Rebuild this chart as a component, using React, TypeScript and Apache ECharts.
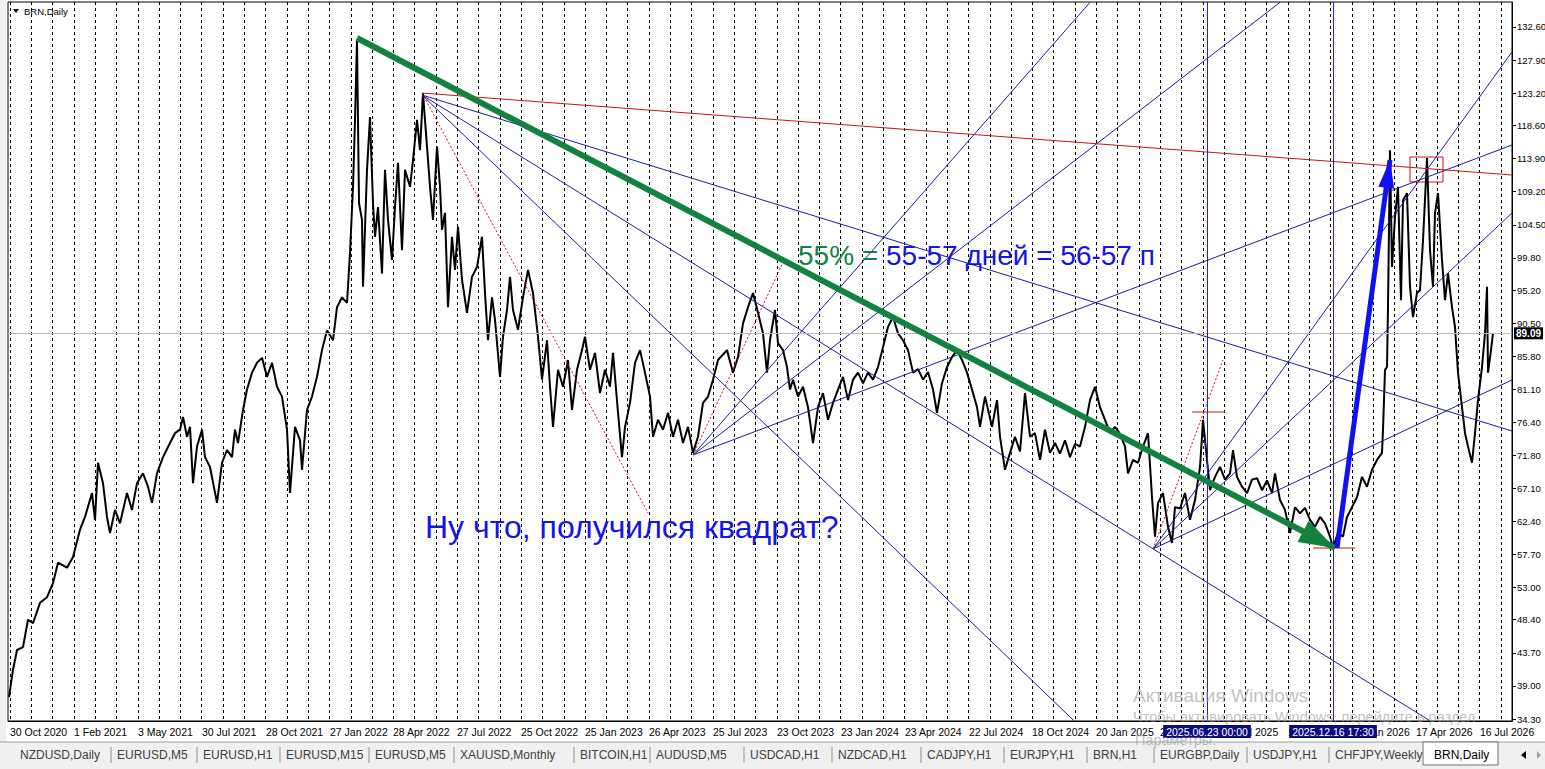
import React, { useEffect, useRef } from "react";
import * as echarts from "echarts";

// BRN daily: bar index (about one bar per pixel) and price
const priceBars = [
  -1, 3, 7, 13, 18, 23, 30, 37, 43, 48, 57, 63, 70, 75, 82, 85, 88, 93, 97, 100,
  105, 110, 117, 122, 127, 133, 138, 142, 147, 153, 160, 165, 170, 173, 177, 180, 183, 187, 192, 195,
  200, 207, 212, 217, 222, 225, 228, 233, 237, 242, 247, 252, 257, 262, 267, 272, 277, 280, 285, 290,
  292, 297, 302, 307, 312, 317, 323, 327, 332, 337, 340, 343, 345, 347, 349, 352, 353, 357, 360, 363,
  365, 368, 372, 375, 378, 382, 385, 388, 392, 395, 400, 403, 407, 410, 413, 417, 420, 423, 427, 430,
  432, 435, 438, 442, 445, 448, 452, 457, 462, 467, 472, 475, 478, 482, 485, 490, 493, 497, 500, 503,
  508, 513, 518, 523, 528, 532, 537, 540, 543, 548, 553, 558, 562, 567, 572, 575, 580, 585, 590, 595,
  600, 603, 608, 612, 615, 620, 625, 630, 635, 640, 643, 648, 653, 658, 663, 668, 673, 678, 683, 688,
  693, 698, 703, 708, 717, 723, 728, 733, 738, 743, 748, 753, 757, 760, 765, 768, 773, 777, 780, 783,
  788, 793, 798, 803, 808, 813, 818, 823, 828, 833, 838, 843, 848, 853, 858, 863, 868, 873, 878, 883,
  888, 893, 898, 903, 908, 913, 918, 923, 927, 932, 937, 942, 947, 952, 957, 962, 967, 970, 975, 982,
  987, 990, 995, 1000, 1005, 1010, 1015, 1020, 1025, 1030, 1035, 1040, 1045, 1050, 1055, 1060, 1065, 1070, 1075, 1080,
  1085, 1090, 1095, 1100, 1105, 1110, 1115, 1118, 1123, 1128, 1133, 1138, 1142, 1145, 1148, 1153, 1158, 1162, 1165, 1170,
  1175, 1180, 1185, 1190, 1192, 1193, 1197, 1200, 1205, 1210, 1215, 1220, 1223, 1227, 1232, 1237, 1242, 1247, 1252, 1257,
  1262, 1265, 1270, 1275, 1280, 1285, 1290, 1295, 1300, 1305, 1310, 1315, 1320, 1323, 1328, 1333, 1337, 1342, 1347, 1352,
  1357, 1362, 1367, 1372, 1373, 1375, 1377, 1378, 1380, 1382, 1385, 1388, 1391, 1393, 1397, 1400, 1403, 1407, 1410, 1413,
  1417, 1420, 1423, 1425, 1428, 1432, 1435, 1438, 1442, 1445, 1448, 1452, 1455, 1458, 1462, 1465, 1468, 1472, 1475, 1477,
  1478, 1481, 1483,
];
const prices = [
  37.4, 41.3, 44.1, 44.5, 48.4, 47.9, 50.8, 51.6, 53.6, 56.5, 55.8, 57.3, 61.2, 63.0, 66.4, 62.6, 70.7, 67.8, 63.0, 60.7,
  64.0, 62.1, 66.4, 64.0, 67.8, 69.2, 67.3, 65.0, 69.2, 71.5, 73.5, 74.9, 75.4, 77.2, 74.4, 75.8, 67.8, 73.0, 75.4, 71.5,
  70.1, 65.0, 70.7, 72.5, 71.5, 75.4, 73.5, 78.2, 81.1, 83.5, 84.9, 85.6, 82.9, 84.9, 81.5, 80.1, 75.4, 66.4, 75.8, 73.9,
  69.7, 78.2, 80.1, 82.9, 86.7, 89.5, 88.1, 92.8, 94.2, 93.4, 100.5, 109.9, 119.4, 130.8, 107.6, 105.2, 95.7, 112.3, 119.8, 107.6,
  102.8, 107.0, 97.6, 112.3, 105.2, 99.5, 107.0, 113.3, 100.9, 112.3, 109.9, 113.7, 119.4, 115.1, 123.2, 115.6, 109.9, 105.2, 115.6, 109.9,
  103.8, 106.2, 92.8, 102.8, 98.1, 104.2, 96.7, 92.0, 97.1, 98.5, 102.8, 94.8, 88.1, 94.2, 91.0, 82.9, 88.6, 92.4, 97.1, 92.4,
  89.6, 94.2, 98.1, 94.8, 88.6, 82.5, 88.1, 81.5, 75.8, 83.9, 81.5, 85.3, 78.2, 83.9, 86.7, 88.6, 83.9, 86.3, 80.6, 83.9,
  81.5, 86.3, 77.8, 71.5, 75.8, 79.2, 84.9, 86.7, 83.5, 80.1, 74.4, 76.8, 75.4, 77.8, 74.4, 76.8, 73.5, 75.8, 72.1, 74.4,
  79.2, 80.1, 82.5, 85.3, 86.7, 83.5, 85.7, 90.5, 92.8, 94.8, 92.0, 89.1, 83.5, 88.1, 92.4, 87.7, 86.7, 84.3, 81.1, 82.5,
  80.1, 81.5, 78.6, 73.5, 78.6, 80.6, 76.8, 79.2, 81.1, 82.9, 79.6, 82.5, 83.5, 82.0, 83.5, 82.5, 84.3, 87.1, 90.0, 91.4,
  89.1, 88.1, 86.7, 83.5, 84.0, 82.5, 83.6, 81.1, 77.8, 82.0, 84.3, 85.7, 86.7, 85.3, 83.5, 81.1, 78.6, 75.8, 80.1, 75.8,
  79.6, 74.4, 69.7, 72.1, 74.4, 72.3, 80.6, 74.4, 74.9, 71.1, 75.4, 72.1, 73.5, 72.0, 73.9, 71.5, 73.4, 73.0, 75.8, 79.6,
  81.5, 78.6, 76.8, 74.9, 75.8, 74.8, 73.0, 69.2, 71.1, 70.7, 73.0, 74.9, 65.8, 60.2, 65.0, 66.4, 61.6, 59.3, 64.4, 64.2,
  66.4, 62.6, 65.4, 70.1, 74.4, 76.8, 71.1, 66.8, 68.7, 70.1, 68.3, 69.2, 72.5, 68.7, 67.3, 66.4, 68.3, 68.5, 66.8, 68.2,
  66.4, 69.2, 65.4, 64.0, 60.7, 64.4, 63.5, 64.3, 62.6, 61.6, 63.0, 62.1, 60.2, 58.7, 60.7, 60.2, 63.0, 64.4, 65.8, 68.7,
  67.3, 69.7, 71.1, 72.1, 75.4, 83.9, 84.3, 92.8, 115.1, 98.5, 105.6, 109.9, 93.8, 108.0, 109.0, 95.7, 91.4, 94.8, 95.2, 102.3,
  114.0, 100.9, 95.7, 106.2, 109.0, 99.5, 93.8, 97.6, 92.8, 90.0, 83.5, 78.6, 74.9, 73.0, 70.7, 74.9, 79.6, 84.3, 89.1, 95.7,
  83.5, 86.7, 89.1,
];
const lastPrice = 89.09;

const xTickBars = [
  0, 64, 128, 192, 256, 320, 383, 447, 511, 575, 639, 703,
  767, 831, 895, 959, 1022, 1086, 1150, 1214, 1278, 1342, 1406, 1470,
];
const xTickLabels = [
  "30 Oct 2020", "1 Feb 2021", "3 May 2021", "30 Jul 2021", "28 Oct 2021", "27 Jan 2022",
  "28 Apr 2022", "27 Jul 2022", "25 Oct 2022", "25 Jan 2023", "26 Apr 2023", "25 Jul 2023",
  "23 Oct 2023", "23 Jan 2024", "23 Apr 2024", "22 Jul 2024", "18 Oct 2024", "20 Jan 2025",
  "21 Apr 2025", "18 Jul 2025", "15 Oct 2025", "15 Jan 2026", "17 Apr 2026", "16 Jul 2026",
];
const yTicks = [
  34.3, 39.0, 43.7, 48.4, 53.0, 57.7, 62.4, 67.1, 71.8, 76.4, 81.1,
  85.8, 90.5, 95.2, 99.8, 104.5, 109.2, 113.9, 118.6, 123.2, 127.9, 132.6,
];

// chart objects: [barFrom, priceFrom, barTo, priceTo]
const blueTrendLines = [
  [412, 122.94, 1502, 75.21],
  [412, 122.94, 1420, 34.05],
  [412, 122.94, 1064, 34.05],
  [683, 71.8, 1080, 136.1],
  [683, 71.8, 1270, 136.1],
  [683, 71.8, 1502, 115.84],
  [1143, 58.45, 1502, 129.05],
  [1143, 58.45, 1502, 106.18],
  [1143, 58.45, 1502, 82.46],
];
const redRay = [412, 123.22, 1502, 111.58];
const redDotted = [
  [412, 123.22, 638, 63.56],
  [683, 71.8, 775, 99.79],
  [1143, 58.45, 1213, 85.3],
];
const redLevels = [
  [1182, 77.91, 1215, 77.91],
  [1303, 58.59, 1345, 58.59],
];
const redBox = [1400, 114.13, 1433, 110.58];
const greenArrow = [347, 131.04, 1325, 58.59];
const blueArrow = [1327, 58.59, 1380, 113.71];
const vLineBars = [1197, 1323];
const vLineLabels = ["2025.06.23 00:00", "2025.12.16 17:30"];

const tabNames = [
  "NZDUSD,Daily", "EURUSD,M5", "EURUSD,H1", "EURUSD,M15", "EURUSD,M5", "XAUUSD,Monthly",
  "BITCOIN,H1", "AUDUSD,M5", "USDCAD,H1", "NZDCAD,H1", "CADJPY,H1", "EURJPY,H1",
  "BRN,H1", "EURGBP,Daily", "USDJPY,H1", "CHFJPY,Weekly",
];
const tabX = [20, 117, 203, 286, 375, 460, 580, 656, 750, 838, 927, 1010, 1093, 1160, 1253, 1335];

const FONT = '"Liberation Sans", Arial, sans-serif';
const NAVY = "#1c1c9c";
const RED = "#c81414";
const GREEN = "#14823f";
const BLUE = "#1414e6";

const seg = (a: number[]) => [[a[0], a[1]], [a[2], a[3]]];

const gridBars: number[] = [];
for (let j = 0; j * 21.3 <= 1500; j++) gridBars.push(+(j * 21.3).toFixed(1));

const BrnChart: React.FC = () => {
  const chartRef = useRef<HTMLDivElement | null>(null);
  useEffect(() => {
    if (!chartRef.current) return;
    const chart = echarts.init(chartRef.current, null, { renderer: "svg" });

    const lineSeries = (pts: number[][], color: string, type: any, width = 1) => ({
      type: "line",
      data: pts,
      symbol: "none",
      silent: true,
      z: 3,
      lineStyle: { color, width, type },
    });

    const arrowMark = (a: number[], color: string, width: number, size: number[]) => ({
      type: "line",
      data: [],
      silent: true,
      z: 4,
      markLine: {
        silent: true,
        animation: false,
        label: { show: false },
        lineStyle: { color, width, type: "solid", opacity: 1 },
        emphasis: { disabled: true },
        data: [
          [
            { coord: [a[0], a[1]], symbol: "none" },
            { coord: [a[2], a[3]], symbol: "triangle", symbolSize: size, symbolOffset: [0, size[1] / 2] },
          ],
        ],
      },
    });

    const textEl = (text: string, x: number, y: number, font: string, fill: string) => ({
      type: "text",
      x,
      y,
      z: 100,
      silent: true,
      style: { text, font, fill, align: "left", verticalAlign: "middle", textAlign: "left", textVerticalAlign: "middle" },
    });

    const graphic: any[] = [
      { type: "rect", z: 90, silent: true, shape: { x: 0, y: 742, width: 1545, height: 27 }, style: { fill: "#f0f0f0" } },
      { type: "line", z: 91, silent: true, shape: { x1: 0, y1: 742, x2: 1545, y2: 742 }, style: { stroke: "#a0a0a0", lineWidth: 1 } },
      { type: "rect", z: 92, silent: true, shape: { x: 1423, y: 742, width: 75, height: 23 }, style: { fill: "#fff", stroke: "#707070", lineWidth: 1 } },
      { type: "rect", z: 90, silent: true, shape: { x: 0, y: 0, width: 6, height: 742 }, style: { fill: "#f0f0f0" } },
      { type: "polygon", z: 100, silent: true, shape: { points: [[1521, 755], [1526, 751], [1526, 759]] }, style: { fill: "#000" } },
      { type: "polygon", z: 100, silent: true, shape: { points: [[1541, 755], [1537, 751], [1537, 759]] }, style: { fill: "#a0a0a0" } },
      { type: "polygon", z: 100, silent: true, shape: { points: [[13, 9], [19, 9], [16, 13]] }, style: { fill: "#000" } },
      textEl("BRN,Daily", 24, 11, `9.5px ${FONT}`, "#000"),
      textEl("55% =", 798, 255, `28px ${FONT}`, GREEN),
      textEl("55-57 дней = 56-57 п", 886, 255, `28px ${FONT}`, BLUE),
      textEl("Ну что, получился квадрат?", 425, 527, `32px ${FONT}`, BLUE),
      textEl("Активация Windows", 1133, 695, `19px ${FONT}`, "rgba(150,150,150,0.6)"),
      textEl("Чтобы активировать Windows, перейдите в раздел", 1133, 717, `14.5px ${FONT}`, "rgba(150,150,150,0.6)"),
      textEl("Параметры.", 1135, 740, `14.5px ${FONT}`, "rgba(150,150,150,0.6)"),
      textEl("BRN,Daily", 1434, 755, `12px ${FONT}`, "#000"),
    ];
    tabNames.forEach((t, i) => graphic.push(textEl(t, tabX[i], 755, `12px ${FONT}`, "#404040")));
    tabX.slice(1).forEach((x) =>
      graphic.push({ type: "line", z: 100, silent: true, shape: { x1: x - 6, y1: 747, x2: x - 6, y2: 763 }, style: { stroke: "#909090", lineWidth: 1 } })
    );

    const option = {
      animation: false,
      backgroundColor: "#fff",
      grid: {
        left: 8, right: 33, top: 2, bottom: 48,
        show: true, borderColor: "#000", borderWidth: 1,
        containLabel: false, outerBoundsMode: "none",
      },
      xAxis: {
        type: "value",
        min: -2,
        max: 1502,
        axisLine: { show: true, onZero: false, lineStyle: { color: "#000", width: 1 } },
        axisTick: { show: false, customValues: gridBars },
        splitLine: { show: true, lineStyle: { color: "#000", width: 1, type: [3, 3] } },
        axisLabel: {
          customValues: xTickBars,
          formatter: (v: number) => xTickLabels[xTickBars.indexOf(v)] ?? "",
          align: "left",
          margin: 5,
          color: "#000",
          fontSize: 10.5,
          fontFamily: FONT,
          hideOverlap: false,
        },
      },
      yAxis: {
        type: "value",
        position: "right",
        min: 34.016,
        max: 136.151,
        axisLine: { show: true, onZero: false, lineStyle: { color: "#000", width: 1 } },
        axisTick: { show: true, customValues: yTicks, length: 4, lineStyle: { color: "#000" } },
        splitLine: { show: false },
        axisLabel: {
          customValues: yTicks,
          formatter: (v: number) => v.toFixed(2),
          margin: 5,
          color: "#000",
          fontSize: 9.5,
          fontFamily: FONT,
          hideOverlap: false,
        },
      },
      series: [
        {
          type: "line",
          data: priceBars.map((b, i) => [b, prices[i]]),
          symbol: "none",
          silent: true,
          z: 2,
          lineStyle: { color: "#000", width: 2 },
          markLine: {
            silent: true,
            animation: false,
            symbol: "none",
            lineStyle: { color: "#b8b8b8", width: 1, type: "solid" },
            label: {
              show: true,
              position: "end",
              distance: 2,
              formatter: lastPrice.toFixed(2),
              color: "#fff",
              backgroundColor: "#000",
              padding: [1, 2],
              fontSize: 10,
              fontWeight: "bold",
              fontFamily: FONT,
            },
            data: [{ yAxis: lastPrice }],
          },
        },
        ...blueTrendLines.map((l) => lineSeries(seg(l), NAVY, "solid")),
        lineSeries(seg(redRay), RED, "solid"),
        ...redDotted.map((l) => lineSeries(seg(l), RED, [2, 2])),
        ...redLevels.map((l) => lineSeries(seg(l), RED, "solid")),
        {
          type: "line",
          data: [],
          silent: true,
          z: 3,
          markLine: {
            silent: true,
            animation: false,
            symbol: "none",
            lineStyle: { color: "#2020c8", width: 1, type: "solid" },
            label: {
              show: true,
              position: "start",
              distance: 4,
              formatter: (p: any) => vLineLabels[p.dataIndex],
              color: "#fff",
              backgroundColor: "#0c0c80",
              padding: [1, 3],
              fontSize: 10.5,
              fontFamily: FONT,
            },
            data: vLineBars.map((b) => ({ xAxis: b })),
          },
          markArea: {
            silent: true,
            itemStyle: { color: "rgba(0,0,0,0)", borderColor: RED, borderWidth: 1 },
            data: [[{ coord: [redBox[0], redBox[1]] }, { coord: [redBox[2], redBox[3]] }]],
          },
        },
        arrowMark(greenArrow, GREEN, 6, [24, 36]),
        arrowMark(blueArrow, "#1010f5", 5, [16, 28]),
      ],
      graphic,
    };

    chart.setOption(option as any);
    return () => {
      chart.dispose();
    };
  }, []);

  return (
    <div
      ref={chartRef}
      style={{ position: "fixed", left: 0, top: 0, width: "1545px", height: "769px", background: "#fff" }}
    />
  );
};

export default BrnChart;
